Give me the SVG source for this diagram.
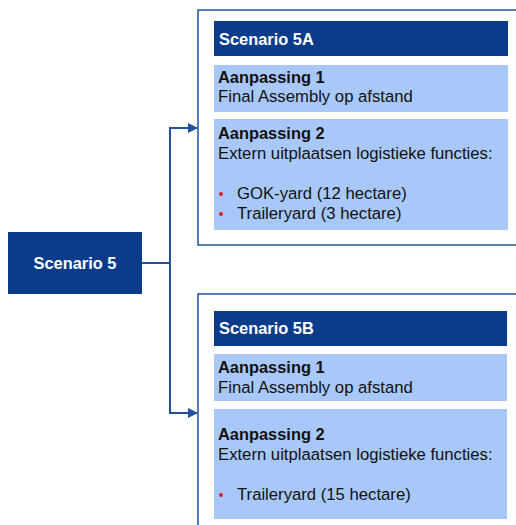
<svg xmlns="http://www.w3.org/2000/svg" width="516" height="525" viewBox="0 0 516 525">
<defs>
<style>
.frame{fill:#fff;stroke:#21509e;stroke-width:1.5}
.hdr{fill:#0b3b8b}
.cell{fill:#a9c8fa}
.t{font-family:"Liberation Sans",Arial,sans-serif;font-size:16.7px;fill:#111}
.b{font-weight:bold;font-size:16.4px}
.w{fill:#fff;font-weight:bold;font-size:16.4px}
.dot{fill:#e01818}
.con{fill:none;stroke:#21509e;stroke-width:2}
</style>
<marker id="ah" viewBox="0 0 10 10" refX="9" refY="5" markerWidth="5" markerHeight="5" orient="auto" markerUnits="strokeWidth">
<path d="M0,0 L10,5 L0,10 z" fill="#21509e"/>
</marker>
</defs>
<rect width="516" height="525" fill="#fff"/>

<g id="connectors">
<path class="con" d="M142,263 H170"/>
<path class="con" d="M170,128 V413"/>
<path class="con" d="M169,128 H197" marker-end="url(#ah)"/>
<path class="con" d="M169,413 H197" marker-end="url(#ah)"/>
</g>

<g id="scenario5">
<rect x="8" y="232" width="134" height="62" class="hdr"/>
<text x="75" y="269" class="t w" text-anchor="middle">Scenario 5</text>
</g>

<g id="scenario5A">
<rect x="198" y="10" width="330" height="235" class="frame"/>
<rect x="214" y="21" width="294" height="35" class="hdr"/>
<text x="219" y="45" class="t w">Scenario 5A</text>
<rect x="214" y="65" width="294" height="47" class="cell"/>
<text x="218" y="83" class="t b">Aanpassing 1</text>
<text x="218" y="102" class="t">Final Assembly op afstand</text>
<rect x="214" y="119" width="294" height="111" class="cell"/>
<text x="218" y="139" class="t b">Aanpassing 2</text>
<text x="218" y="159" class="t">Extern uitplaatsen logistieke functies:</text>
<circle cx="221" cy="194" r="1.9" class="dot"/>
<text x="237" y="199" class="t">GOK-yard (12 hectare)</text>
<circle cx="221" cy="214" r="1.9" class="dot"/>
<text x="237" y="219" class="t">Traileryard (3 hectare)</text>
</g>

<g id="scenario5B">
<rect x="198" y="294" width="330" height="240" class="frame"/>
<rect x="214" y="311" width="293" height="35" class="hdr"/>
<text x="219" y="334" class="t w">Scenario 5B</text>
<rect x="214" y="354" width="293" height="47" class="cell"/>
<text x="218" y="373" class="t b">Aanpassing 1</text>
<text x="218" y="393" class="t">Final Assembly op afstand</text>
<rect x="214" y="409" width="293" height="110" class="cell"/>
<text x="218" y="440" class="t b">Aanpassing 2</text>
<text x="218" y="460" class="t">Extern uitplaatsen logistieke functies:</text>
<circle cx="221" cy="495" r="1.9" class="dot"/>
<text x="237" y="500" class="t">Traileryard (15 hectare)</text>
</g>
</svg>
